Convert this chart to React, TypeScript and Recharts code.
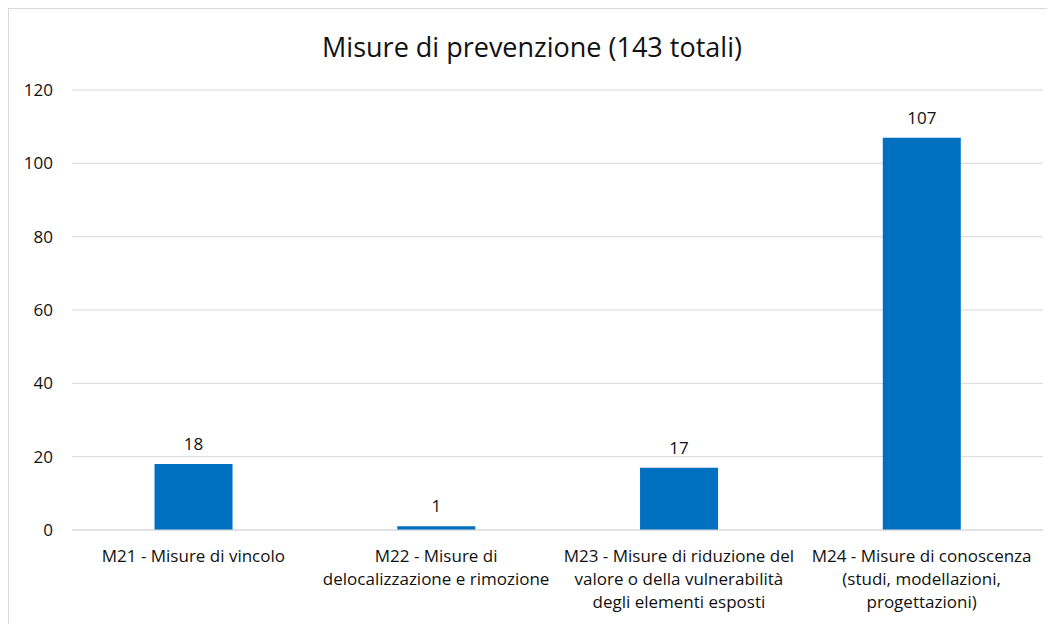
import React from 'react';
import { BarChart, Bar, XAxis, YAxis, CartesianGrid, LabelList } from 'recharts';

const categories = [
  'M21 - Misure di vincolo',
  'M22 - Misure di\ndelocalizzazione e rimozione',
  'M23 - Misure di riduzione del\nvalore o della vulnerabilità\ndegli elementi esposti',
  'M24 - Misure di conoscenza\n(studi, modellazioni,\nprogettazioni)',
];
const counts = [18, 1, 17, 107];
const yTicks = [0, 20, 40, 60, 80, 100, 120];

const data = categories.map((name, i) => ({ name, value: counts[i] }));

const FONT = '"Open Sans", Lato, sans-serif';
const TEXT = '#111111';
const SIZE = 17;

function CategoryTick(props: any) {
  const { x, y, payload } = props;
  const lines = String(payload.value).split('\n');
  return (
    <text x={x} y={y} textAnchor="middle" fill={TEXT} fontSize={SIZE} fontFamily={FONT}>
      {lines.map((line, i) => (
        <tspan key={i} x={x} dy={i === 0 ? 24 : 23}>
          {line}
        </tspan>
      ))}
    </text>
  );
}

export default function App() {
  return (
    <div
      style={{
        position: 'relative',
        width: 1046,
        height: 620,
        border: '1px solid #d9d9d9',
        background: '#fff',
        fontFamily: FONT,
      }}
    >
      <div
        style={{
          position: 'absolute',
          top: 19,
          left: 0,
          width: '100%',
          textAlign: 'center',
          fontSize: 27,
          color: TEXT,
        }}
      >
        Misure di prevenzione (143 totali)
      </div>
      <BarChart
        width={1046}
        height={620}
        data={data}
        margin={{ top: 81, right: 12, left: 0, bottom: 19 }}
        barCategoryGap="34%"
      >
        <CartesianGrid vertical={false} stroke="#d9d9d9" />
        <XAxis
          dataKey="name"
          axisLine={{ stroke: '#d9d9d9' }}
          tickLine={false}
          interval={0}
          height={80}
          tick={<CategoryTick />}
        />
        <YAxis
          width={63}
          domain={[0, 120]}
          ticks={yTicks}
          axisLine={false}
          tickLine={false}
          tickSize={0}
          tickMargin={19}
          tick={{ fill: TEXT, fontSize: SIZE, fontFamily: FONT }}
        />
        <Bar dataKey="value" fill="#0070c0" isAnimationActive={false}>
          <LabelList
            dataKey="value"
            position="top"
            offset={14}
            fill={TEXT}
            fontSize={SIZE}
            fontFamily={FONT}
          />
        </Bar>
      </BarChart>
    </div>
  );
}
